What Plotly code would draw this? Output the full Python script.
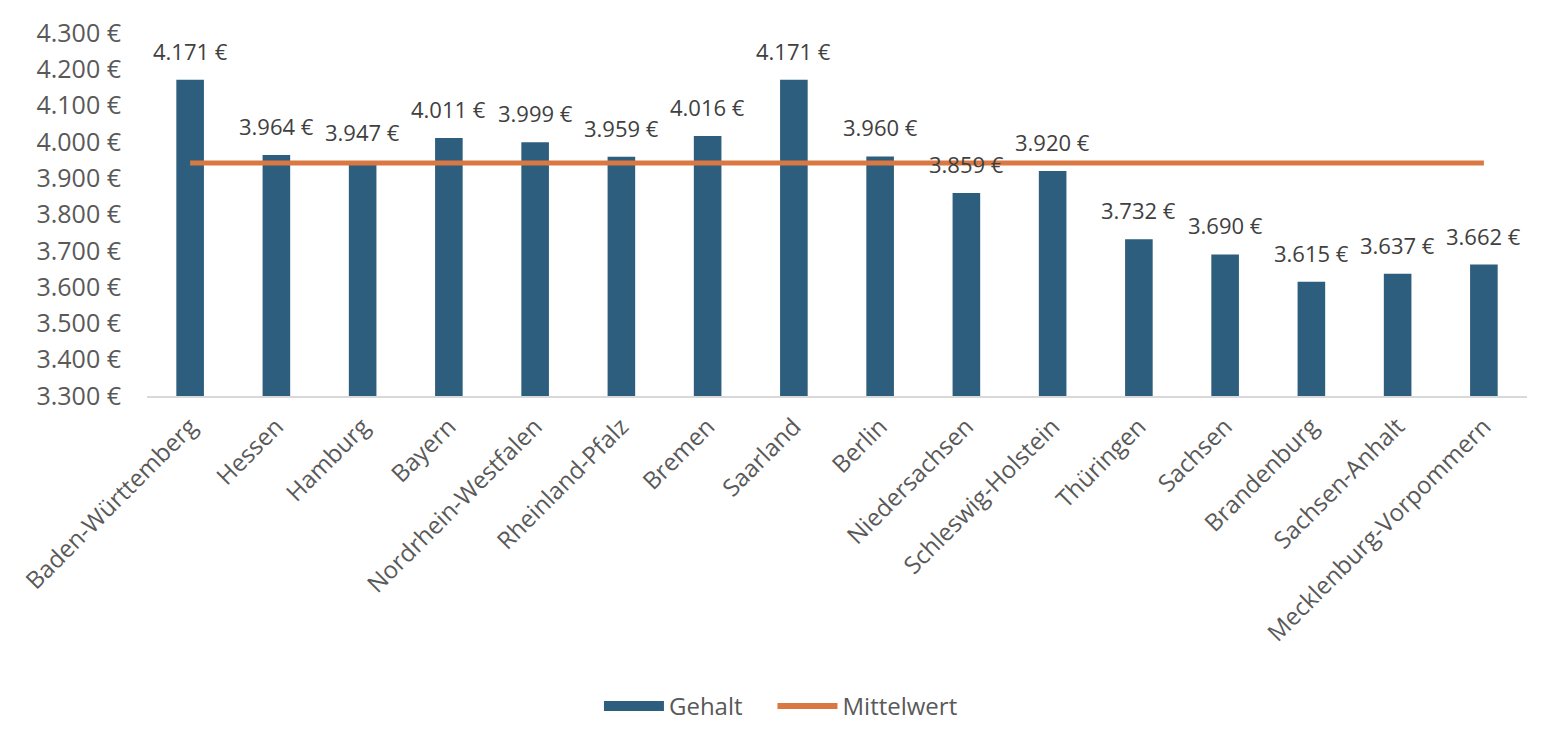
import plotly.graph_objects as go

laender = ['Baden-Württemberg', 'Hessen', 'Hamburg', 'Bayern', 'Nordrhein-Westfalen',
           'Rheinland-Pfalz', 'Bremen', 'Saarland', 'Berlin', 'Niedersachsen',
           'Schleswig-Holstein', 'Thüringen', 'Sachsen', 'Brandenburg', 'Sachsen-Anhalt',
           'Mecklenburg-Vorpommern']
gehalt = [4171, 3964, 3947, 4011, 3999, 3959, 4016, 4171, 3960, 3859, 3920, 3732,
          3690, 3615, 3637, 3662]
mittelwert = [3942] * len(laender)
y_ticks = [3300, 3400, 3500, 3600, 3700, 3800, 3900, 4000, 4100, 4200, 4300]

BLAU = '#2E5E7E'
ORANGE = '#D97842'


def euro(v):
    return f"{v:,}".replace(',', '.') + ' €'


fig = go.Figure()
fig.add_trace(go.Bar(name='Gehalt', x=laender, y=gehalt, width=0.32, showlegend=False,
                     marker=dict(color=BLAU, line=dict(width=0))))
fig.add_trace(go.Scatter(name='Mittelwert', x=laender, y=mittelwert, mode='lines',
                         showlegend=False, line=dict(color=ORANGE, width=5)))
# legend-only entries (Excel-like wide symbols); nbsp padding for the gap
fig.add_trace(go.Scatter(name='Gehalt' + '\u00a0' * 4, x=[None], y=[None], mode='lines',
                         line=dict(color=BLAU, width=16)))
fig.add_trace(go.Scatter(name='Mittelwert', x=[None], y=[None], mode='lines',
                         line=dict(color=ORANGE, width=6)))

for land, wert in zip(laender, gehalt):
    fig.add_annotation(x=land, y=wert, text=euro(wert), showarrow=False,
                       yanchor='middle', yshift=29,
                       font=dict(size=22, color='#404040'))

# page body adds 8px offset, margins are compensated for that
fig.update_layout(
    width=1553, height=750,
    margin=dict(l=139, r=34, t=25, b=362, autoexpand=False),
    plot_bgcolor='white', paper_bgcolor='white',
    font=dict(family='Open Sans, sans-serif', color='#595959'),
    bargap=0.68,
    showlegend=True,
    legend=dict(orientation='h', x=0.3275, xanchor='left', y=-0.855, yanchor='middle',
                font=dict(size=24, color='#595959'), itemwidth=60),
)
fig.update_yaxes(range=[3300, 4300], tickvals=y_ticks, ticktext=[euro(v) for v in y_ticks],
                 showgrid=False, zeroline=False, showline=False, automargin=False,
                 tickfont=dict(size=25, color='#595959'), ticks='', ticklabelstandoff=25)
fig.update_xaxes(showline=True, linecolor='#D9D9D9', linewidth=2, showgrid=False,
                 automargin=False, tickangle=-45, tickfont=dict(size=24, color='#595959'),
                 ticks='', ticklabelstandoff=5)

fig.write_html("out.html")
